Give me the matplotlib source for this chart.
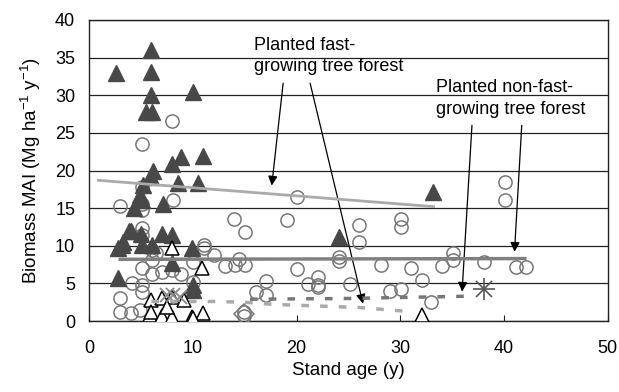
import matplotlib
matplotlib.use("Agg")
import matplotlib.pyplot as plt
import numpy as np

plt.rcParams["font.family"] = ["Liberation Sans", "DejaVu Sans"]
plt.rcParams["mathtext.default"] = "regular"

# ─────────────────────────────
# DATA
# ─────────────────────────────
# planted fast-growing tree forest (filled triangles)
fast_age = [2.6, 6.0, 6.0, 6.0, 10.0, 5.5, 6.1, 8.9, 11.0, 8.0, 6.2, 6.0,
            5.2, 8.55, 10.5, 5.1, 4.9, 4.3, 7.1, 3.8, 4.0, 5.0, 7.0, 8.0,
            3.3, 3.15, 2.8, 5.1, 6.05, 9.9, 8.0, 2.8, 10.05, 10.05,
            24.1, 33.1]
fast_mai = [32.9, 36.0, 33.1, 30.0, 30.4, 27.8, 27.8, 21.8, 21.9, 20.9, 20.0, 19.2,
            18.1, 18.3, 18.3, 16.1, 16.7, 15.0, 15.6, 11.9, 11.9, 11.6, 11.6, 11.4,
            10.5, 10.1, 9.65, 10.1, 10.1, 9.65, 7.65, 5.7, 4.8, 4.1,
            11.2, 17.2]

# planted non-fast-growing tree forest (open circles)
slow_age = [8.0, 5.1, 5.1, 3.0, 5.1, 5.1, 8.1, 14.0, 15.0, 5.1, 5.1, 6.05,
            6.4, 11.1, 11.1, 12.0, 6.05, 10.05, 5.1, 6.05, 7.0, 8.0, 8.9,
            13.1, 14.1, 15.0, 14.4, 4.1, 5.1, 5.1, 10.05, 3.0, 3.0, 4.0, 4.9,
            17.0, 16.1, 17.0, 20.0, 19.1, 26.0, 26.0, 30.1, 30.1, 24.1, 24.1,
            28.1, 31.05, 32.1, 34.0, 35.1, 35.1, 20.0, 22.05, 22.05, 22.05,
            21.1, 25.1, 29.0, 30.1, 33.0, 40.05, 40.05, 38.1, 41.1, 42.1,
            14.9, 14.9]
slow_mai = [26.6, 23.5, 17.8, 15.3, 15.6, 14.7, 16.1, 13.5, 11.8, 12.3, 11.4, 9.4,
            9.0, 10.1, 9.65, 8.8, 8.1, 7.9, 7.0, 6.3, 6.5, 6.8, 6.3,
            7.3, 7.4, 7.4, 8.2, 5.0, 4.8, 3.9, 5.2, 3.0, 1.2, 1.1, 1.5,
            5.3, 3.8, 3.5, 16.5, 13.4, 12.75, 10.5, 13.5, 12.5, 8.45, 8.0,
            7.4, 7.0, 5.5, 7.3, 9.0, 8.1, 6.9, 5.9, 4.8, 4.5,
            4.9, 4.9, 4.0, 4.2, 2.55, 18.5, 16.1, 7.8, 7.2, 7.2,
            1.2, 0.7]

# open triangles
open_age = [8.0, 10.9, 6.0, 7.0, 8.0, 9.1, 5.9, 6.0, 7.0, 8.0, 9.9, 11.0, 7.5,
            10.05, 32.1]
open_mai = [9.65, 7.0, 2.8, 3.0, 3.2, 2.8, 0.8, 1.2, 0.7, 0.6, 0.6, 1.1, 1.9,
            0.4, 0.8]

# grey crosses
cross_age = [7.5, 8.1, 8.8]
cross_mai = [3.45, 3.45, 3.2]

# diamond and star
diamond_age = [14.9]
diamond_mai = [1.0]
star_age = [38.1]
star_mai = [4.3]

# trend lines
fast_fit_age = [0.9, 33.2]
fast_fit_mai = [18.7, 15.2]
slow_fit_age = [3.0, 42.0]
slow_fit_mai = [8.2, 8.3]
dark_dash_age = [15.5, 25.0, 36.5]
dark_dash_mai = [2.9, 3.0, 3.3]
light_dash_age = [6.0, 12.0, 15.0, 18.0, 22.0, 26.0, 31.0]
light_dash_mai = [2.6, 2.6, 2.5, 2.2, 2.0, 1.8, 1.25]

# ─────────────────────────────
# PLOT
# ─────────────────────────────
fig, ax = plt.subplots(figsize=(6.19, 3.92), dpi=100)
fig.subplots_adjust(left=0.144, right=0.982, top=0.949, bottom=0.181)

ax.set_axisbelow(True)
ax.grid(axis="y", color="#222222", linewidth=0.9)

ax.plot(slow_age, slow_mai, "o", ms=9.5, mfc="none", mec="#777777", mew=1.1, zorder=3)
ax.plot(fast_age, fast_mai, "^", ms=11, color="#484848", mec="#484848", zorder=4)
ax.plot(open_age, open_mai, "^", ms=10.5, mfc="white", mec="black", mew=1.1, zorder=5)
ax.plot(cross_age, cross_mai, "x", ms=10, color="#888888", mew=1.3, zorder=5)
ax.plot(diamond_age, diamond_mai, "D", ms=10, mfc="none", mec="#777777", mew=1.1, zorder=3)
ax.plot(star_age, star_mai, "+", ms=16, color="#555555", mew=1.2, zorder=5)
ax.plot(star_age, star_mai, "x", ms=12, color="#555555", mew=1.2, zorder=5)

ax.plot(fast_fit_age, fast_fit_mai, color="#aaaaaa", lw=2.0, zorder=6)
ax.plot(slow_fit_age, slow_fit_mai, color="#808080", lw=2.5, zorder=6)
ax.plot(dark_dash_age, dark_dash_mai, color="#777777", lw=2.5, dashes=(2.2, 3.2), zorder=6)
ax.plot(light_dash_age, light_dash_mai, color="#aaaaaa", lw=2.5, dashes=(2.2, 3.2), zorder=6)

# annotations
arrow = dict(arrowstyle="-|>", color="black", lw=0.9, mutation_scale=14, shrinkA=0, shrinkB=0)
ax.text(15.9, 35.2, "Planted fast-\ngrowing tree forest", fontsize=13, ha="left", va="center",
        linespacing=1.35)
ax.annotate("", xy=(17.6, 18.0), xytext=(18.7, 31.6), arrowprops=arrow)
ax.annotate("", xy=(26.4, 2.3), xytext=(21.3, 31.6), arrowprops=arrow)
ax.text(33.4, 29.6, "Planted non-fast-\ngrowing tree forest", fontsize=13, ha="left", va="center",
        linespacing=1.35)
ax.annotate("", xy=(35.95, 3.9), xytext=(36.9, 26.0), arrowprops=arrow)
ax.annotate("", xy=(41.0, 9.2), xytext=(41.7, 26.0), arrowprops=arrow)

ax.set_xlim(0, 50)
ax.set_ylim(0, 40)
ax.set_xticks(np.arange(0, 51, 10))
ax.set_yticks(np.arange(0, 41, 5))
ax.tick_params(axis="x", direction="in", length=4, labelsize=13, pad=14, color="#222222")
ax.tick_params(axis="y", length=0, labelsize=13, pad=10)
for s in ax.spines.values():
    s.set_color("#222222")
    s.set_linewidth(1.0)

ax.set_xlabel("Stand age (y)", fontsize=13.5, labelpad=3)
ax.set_ylabel("Biomass MAI (Mg ha$^{-1}$ y$^{-1}$)", fontsize=13.5, labelpad=9)

plt.savefig("out.png", dpi=100)
plt.close()
